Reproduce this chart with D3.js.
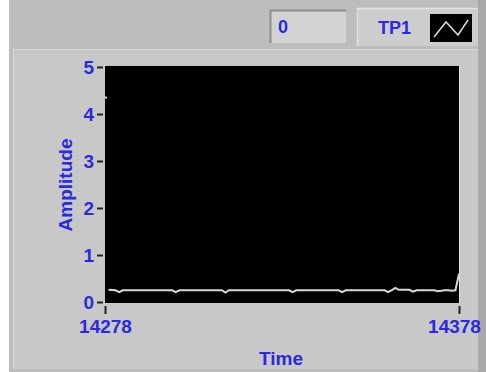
<!DOCTYPE html>
<html><head><meta charset="utf-8">
<script src="https://cdn.jsdelivr.net/npm/d3@7"></script>
<style>body{margin:0;background:#fff;}svg{display:block;}</style>
</head><body>
<script>
const yTicks = [0, 1, 2, 3, 4, 5];
const xTicks = [14278, 14378];
const seriesName = "TP1";
const numericValue = "0";
// sample times and amplitude values
const sampleTimes = [14278, 14279, 14281, 14282, 14283, 14297, 14298, 14299, 14311, 14312, 14313, 14330, 14331, 14332, 14344, 14345, 14346, 14357, 14358, 14359, 14360, 14361, 14364, 14365, 14366, 14371, 14372, 14374, 14375, 14376, 14377, 14378];
const sampleValues = [4.35, 0.26, 0.25, 0.21, 0.25, 0.25, 0.21, 0.25, 0.25, 0.20, 0.25, 0.25, 0.21, 0.25, 0.25, 0.21, 0.25, 0.25, 0.21, 0.25, 0.30, 0.26, 0.26, 0.22, 0.25, 0.25, 0.23, 0.25, 0.25, 0.24, 0.25, 0.60];

const W = 486, H = 372;
const svg = d3.select("body").append("svg").attr("width", W).attr("height", H);
const blue = "#2a2ae0";
const font = "'Liberation Sans', Arial, sans-serif";

// background frames
svg.append("rect").attr("x", 0).attr("y", 0).attr("width", W).attr("height", H).attr("fill", "#fff");
svg.append("rect").attr("x", 9).attr("y", 0).attr("width", W - 9).attr("height", H).attr("fill", "#bdbdbd");
svg.append("rect").attr("x", 13).attr("y", 49).attr("width", 465).attr("height", 320).attr("fill", "#c8c8c8");
svg.append("line").attr("x1", 13).attr("x2", 478).attr("y1", 49.5).attr("y2", 49.5).attr("stroke", "#d8d8d8");
svg.append("line").attr("x1", 13.5).attr("x2", 13.5).attr("y1", 49).attr("y2", 369).attr("stroke", "#d8d8d8");
svg.append("rect").attr("x", 478).attr("y", 0).attr("width", 8).attr("height", H).attr("fill", "#a9a9a9");

// numeric indicator
svg.append("rect").attr("x", 270).attr("y", 10).attr("width", 76).attr("height", 33).attr("fill", "#d3d3d3");
svg.append("path").attr("d", "M270.5,43 V10.5 H346").attr("fill", "none").attr("stroke", "#8e8e8e").attr("stroke-width", 2);
svg.append("text").attr("x", 278).attr("y", 33).attr("fill", blue).attr("font-family", font)
  .attr("font-weight", "bold").attr("font-size", 18).text(numericValue);

// legend
svg.append("rect").attr("x", 357).attr("y", 8).attr("width", 121).attr("height", 38).attr("fill", "#cdcdcd");
svg.append("path").attr("d", "M357.5,46 V8.5 H478").attr("fill", "none").attr("stroke", "#e2e2e2").attr("stroke-width", 1.5);
svg.append("text").attr("x", 378).attr("y", 34).attr("fill", blue).attr("font-family", font)
  .attr("font-weight", "bold").attr("font-size", 18).text(seriesName);
svg.append("rect").attr("x", 430).attr("y", 14).attr("width", 42).attr("height", 28).attr("fill", "#000");
svg.append("path").attr("d", "M434,37 L446,22 L458,35 L468,20").attr("fill", "none").attr("stroke", "#ddd").attr("stroke-width", 1.5);

// plot
const x = d3.scaleLinear().domain([xTicks[0], xTicks[1]]).range([105, 459]);
const y = d3.scaleLinear().domain([0, 5]).range([302, 67]);
svg.append("rect").attr("x", 105).attr("y", 66).attr("width", 354).attr("height", 237).attr("fill", "#000");
svg.append("line").attr("x1", 459.5).attr("x2", 459.5).attr("y1", 66).attr("y2", 303).attr("stroke", "#e0e0e0");

const data = sampleTimes.map((t, i) => ({t, v: sampleValues[i]}));
svg.append("path").datum(data.slice(1))
  .attr("d", d3.line().x(d => x(d.t)).y(d => y(d.v)))
  .attr("fill", "none").attr("stroke", "#d9d9d9").attr("stroke-width", 2);
svg.append("rect").attr("x", x(data[0].t)).attr("y", y(data[0].v) - 1).attr("width", 2).attr("height", 2).attr("fill", "#ddd");

// y axis
const yAxis = svg.append("g").attr("transform", "translate(103,0)")
  .call(d3.axisLeft(y).tickValues(yTicks).tickSize(6).tickPadding(3).tickFormat(d3.format("d")));
yAxis.select(".domain").remove();
yAxis.selectAll(".tick line").attr("stroke", "#222").attr("stroke-width", 2);
yAxis.selectAll("text").attr("fill", blue).attr("font-family", font).attr("font-weight", "bold").attr("font-size", 19);

// x axis
const xAxis = svg.append("g").attr("transform", "translate(0,306)")
  .call(d3.axisBottom(x).tickValues(xTicks).tickSize(8).tickPadding(6).tickFormat(d3.format("d")));
xAxis.select(".domain").remove();
xAxis.selectAll(".tick line").attr("stroke", "#222").attr("stroke-width", 2);
xAxis.selectAll("text").attr("fill", blue).attr("font-family", font).attr("font-weight", "bold").attr("font-size", 19)
  .attr("dx", (d, i) => i === xTicks.length - 1 ? -5 : 0);

// axis titles
svg.append("text").attr("transform", "translate(72,185) rotate(-90)").attr("text-anchor", "middle")
  .attr("fill", blue).attr("font-family", font).attr("font-weight", "bold").attr("font-size", 19).text("Amplitude");
svg.append("text").attr("x", 281).attr("y", 365).attr("text-anchor", "middle")
  .attr("fill", blue).attr("font-family", font).attr("font-weight", "bold").attr("font-size", 19).text("Time");
</script>
</body></html>
